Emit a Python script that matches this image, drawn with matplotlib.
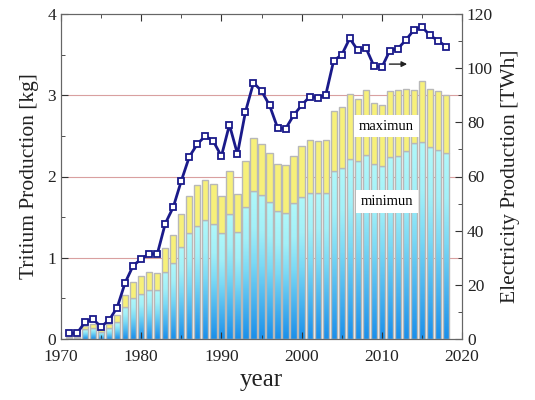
import numpy as np
import matplotlib
matplotlib.use("Agg")
import matplotlib.pyplot as plt
from matplotlib.colors import LinearSegmentedColormap

plt.rcParams['font.family'] = ['Liberation Serif', 'DejaVu Serif']

# data
years = np.arange(1971, 2019)

tritium_min = [0.01, 0.01, 0.12, 0.14, 0.09, 0.13, 0.21, 0.40, 0.51, 0.56,
               0.60, 0.60, 0.82, 0.94, 1.13, 1.31, 1.39, 1.46, 1.41, 1.31,
               1.535, 1.32, 1.63, 1.825, 1.77, 1.69, 1.575, 1.555, 1.67, 1.745,
               1.80, 1.80, 1.80, 2.07, 2.10, 2.22, 2.19, 2.265, 2.15, 2.13,
               2.245, 2.255, 2.32, 2.41, 2.42, 2.36, 2.325, 2.29]

tritium_max = [0.02, 0.02, 0.164, 0.19, 0.123, 0.18, 0.295, 0.54, 0.70, 0.77,
               0.82, 0.81, 1.115, 1.275, 1.535, 1.765, 1.89, 1.96, 1.91, 1.765,
               2.07, 1.78, 2.195, 2.48, 2.395, 2.285, 2.16, 2.14, 2.255, 2.37,
               2.45, 2.435, 2.45, 2.805, 2.86, 3.015, 2.96, 3.07, 2.90, 2.88,
               3.05, 3.065, 3.075, 3.07, 3.17, 3.075, 3.055, 3.00]

electricity = [2.1, 2.1, 6.3, 7.3, 4.5, 7.0, 11.6, 20.8, 27.1, 29.5,
               31.5, 31.3, 42.6, 48.7, 58.4, 67.3, 72.0, 75.0, 73.0, 67.5,
               79.1, 68.3, 83.9, 94.6, 91.6, 86.3, 78.0, 77.6, 82.6, 86.3,
               89.5, 89.1, 90.0, 102.8, 104.9, 111.0, 106.6, 107.6, 100.9, 100.3,
               106.5, 107.2, 110.4, 114.1, 115.3, 112.1, 110.2, 108.0]

tritium_min = np.array(tritium_min)
tritium_max = np.array(tritium_max)

fig = plt.figure(figsize=(5.35, 4.0), dpi=100)
ax = fig.add_axes([0.114, 0.1525, 0.7496, 0.8125])

# grid lines
for g in [1, 2, 3]:
    ax.axhline(g, color='#d9a0a0', lw=0.8, zorder=0.5)

bar_w = 0.78
edge = '#b8b8b8'

# gradient filled minimum bars
cmap = LinearSegmentedColormap.from_list(
    'blu', [(0.0, '#1a8fea'), (0.5, '#78d8f5'), (0.75, '#a2f0f8'), (1.0, '#b0f8fa')])
grad = np.linspace(0, 1, 128).reshape(-1, 1)
for x, h in zip(years, tritium_min):
    ax.imshow(grad, cmap=cmap, origin='lower', aspect='auto',
              extent=(x - bar_w / 2, x + bar_w / 2, 0, h), zorder=1)
ax.bar(years, tritium_min, width=bar_w, color='none', edgecolor=edge, lw=1, zorder=2)

# yellow maximum part
ax.bar(years, tritium_max - tritium_min, bottom=tritium_min, width=bar_w,
       color='#f7f07a', edgecolor=edge, lw=1, zorder=2)

ax.set_xlim(1970, 2020)
ax.set_ylim(0, 4)
ax.set_xticks(np.arange(1970, 2021, 10))
ax.set_xticks(np.arange(1975, 2020, 10), minor=True)
ax.set_yticks(np.arange(0, 5, 1))
ax.set_yticks(np.arange(0.5, 4, 1), minor=True)
ax.tick_params(which='both', direction='in', top=True, right=False,
               labelsize=12.5, colors='#333333', labelcolor='#222222')
ax.tick_params(axis='x', pad=7)
ax.tick_params(which='major', length=5)
ax.tick_params(which='minor', length=3)
for s in ax.spines.values():
    s.set_color('#666666')

ax.set_xlabel('year', fontsize=18, color='#222222', labelpad=3)
ax.set_ylabel('Tritium Production [kg]', fontsize=15.5, color='#222222', labelpad=6)

ax.text(2010.6, 2.62, 'maximun', fontsize=10.5, ha='center', va='center', zorder=5,
        bbox=dict(facecolor='white', edgecolor='none', pad=3.5))
ax.text(2010.6, 1.69, 'minimun', fontsize=10.5, ha='center', va='center', zorder=5,
        bbox=dict(facecolor='white', edgecolor='none', pad=3.5))

# electricity on right axis
ax2 = ax.twinx()
ax2.plot(years, electricity, color='#1a1a8a', lw=2, marker='s', ms=4.5,
         mfc='white', mec='#1a1a8a', mew=1.3, zorder=3)
ax2.annotate('', xy=(2013.5, 101.5), xytext=(2010.6, 101.5),
             arrowprops=dict(arrowstyle='-|>', color='#222222', lw=1, mutation_scale=8))
ax2.set_ylim(0, 120)
ax2.set_yticks(np.arange(0, 121, 20))
ax2.set_yticks(np.arange(10, 120, 20), minor=True)
ax2.tick_params(which='both', direction='in', labelsize=12.5,
                colors='#333333', labelcolor='#222222')
ax2.tick_params(which='major', length=5)
ax2.tick_params(which='minor', length=3)
for s in ax2.spines.values():
    s.set_color('#666666')
ax2.set_ylabel('Electricity Production [TWh]', fontsize=15.5, color='#222222', labelpad=6)

fig.savefig('out.png', dpi=100)
